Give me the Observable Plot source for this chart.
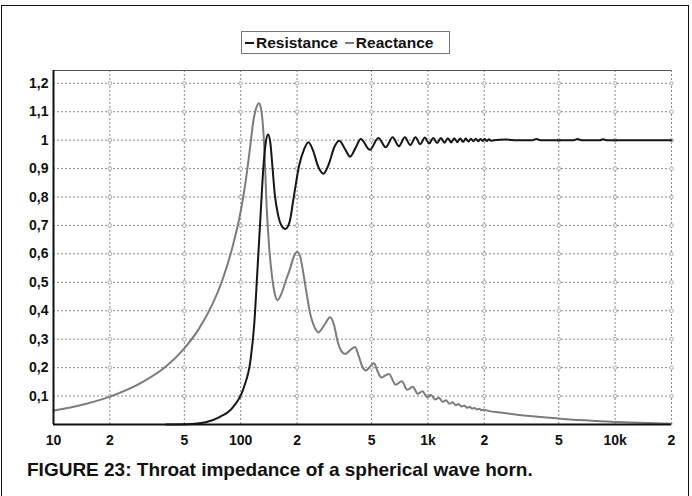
<!DOCTYPE html>
<html>
<head>
<meta charset="utf-8">
<script src="https://cdn.jsdelivr.net/npm/d3@7"></script>
<script src="https://cdn.jsdelivr.net/npm/@observablehq/plot@0.6"></script>
<style>
  html, body { margin: 0; padding: 0; background: #fff; }
  #fig { position: relative; width: 692px; height: 496px; overflow: hidden; background: #fff; }
  #border { position: absolute; left: 1px; top: 5px; width: 688px; height: 520px; border: 1.5px solid #111; box-sizing: border-box; }
  #legend { position: absolute; left: 241px; top: 31px; width: 209px; height: 23px; border: 1.5px solid #777; box-sizing: border-box;
            background: #fff; font: bold 15.5px "Liberation Sans", Arial, sans-serif; color: #111; white-space: nowrap;
            display: flex; align-items: center; padding-left: 3px; }
  .sw { display: inline-block; width: 9px; height: 2px; margin-right: 2px; }
  #chart { position: absolute; left: 0; top: 40px; }
  #caption { position: absolute; left: 27px; top: 459px; font: bold 19px "Liberation Sans", Arial, sans-serif; color: #111; white-space: nowrap; }
</style>
</head>
<body>
<div id="fig">
  <div id="border"></div>
  <div id="chart"></div>
  <div id="legend"></div>
  <div id="caption"></div>
</div>
<script>
// ---- data ----
const seriesNames = ["Resistance", "Reactance"];
const captionText = "FIGURE 23: Throat impedance of a spherical wave horn.";

const xTicks = [10, 20, 50, 100, 200, 500, 1000, 2000, 5000, 10000, 20000];
const xTickLabels = ["10", "2", "5", "100", "2", "5", "1k", "2", "5", "10k", "2"];
const yTicks = [0.1, 0.2, 0.3, 0.4, 0.5, 0.6, 0.7, 0.8, 0.9, 1.0, 1.1, 1.2];
const yTickLabels = ["0,1", "0,2", "0,3", "0,4", "0,5", "0,6", "0,7", "0,8", "0,9", "1", "1,1", "1,2"];

// Resistance (black)
const resF = [40, 55, 65, 77, 91, 104, 113, 118, 123, 128, 132, 136, 140, 144, 148, 152, 158, 165, 173, 182, 192, 205, 218, 230, 243, 260, 277, 295, 316, 336, 360, 384, 410, 438, 490, 543, 595, 648, 700, 753, 805, 858, 910, 963, 1015, 1068, 1120, 1173, 1225, 1278, 1330, 1383, 1435, 1488, 1540, 1593, 1645, 1698, 1750, 1803, 1855, 1908, 1960, 2013, 2065, 2118, 2170, 2250, 2600, 3000, 3600, 3800, 4000, 4400, 6000, 6300, 6600, 8300, 8600, 9000, 12000, 20000];
const resV = [0.0, 0.002, 0.008, 0.026, 0.061, 0.131, 0.23, 0.35, 0.55, 0.75, 0.9, 0.99, 1.02, 0.99, 0.9, 0.81, 0.74, 0.7, 0.688, 0.71, 0.8, 0.91, 0.968, 0.993, 0.965, 0.905, 0.882, 0.915, 0.975, 0.998, 0.97, 0.942, 0.972, 1.004, 0.966, 1.008, 0.975, 1.01, 0.979, 1.01, 0.983, 1.01, 0.986, 1.009, 0.988, 1.008, 0.99, 1.008, 0.991, 1.007, 0.992, 1.007, 0.993, 1.006, 0.994, 1.006, 0.995, 1.005, 0.996, 1.005, 0.996, 1.004, 0.997, 1.004, 0.997, 1.003, 0.998, 1.0, 1.002, 1.0, 1.0, 1.004, 1.0, 1.0, 1.0, 1.004, 1.0, 1.0, 1.003, 1.0, 1.0, 1.0];

// Reactance (grey)
const reaF = [10, 15, 20, 30, 40, 50, 60, 70, 80, 90, 100, 106, 112, 117, 122, 125, 128, 133, 138, 142, 147, 152, 157, 165, 175, 184, 192, 200, 208, 215, 225, 235, 245, 260, 280, 300, 315, 330, 345, 361, 385, 408, 425, 445, 467, 490, 515, 540, 565, 590, 620, 672, 725, 777, 830, 882, 935, 987, 1040, 1092, 1145, 1197, 1250, 1302, 1355, 1407, 1460, 1512, 1565, 1617, 1670, 1722, 1775, 1827, 1880, 1932, 1985, 2100, 2500, 3000, 4000, 5000, 6000, 7000, 8000, 10000, 12000, 15000, 20000];
const reaV = [0.049, 0.073, 0.098, 0.15, 0.205, 0.268, 0.338, 0.418, 0.51, 0.62, 0.75, 0.85, 0.97, 1.07, 1.12, 1.13, 1.115, 1.0, 0.75, 0.62, 0.52, 0.46, 0.437, 0.46, 0.51, 0.55, 0.59, 0.607, 0.59, 0.54, 0.46, 0.39, 0.35, 0.324, 0.35, 0.377, 0.35, 0.29, 0.258, 0.248, 0.262, 0.273, 0.245, 0.205, 0.19, 0.203, 0.215, 0.185, 0.165, 0.172, 0.178, 0.14, 0.152, 0.122, 0.133, 0.108, 0.117, 0.097, 0.104, 0.088, 0.094, 0.08, 0.085, 0.073, 0.078, 0.068, 0.072, 0.063, 0.067, 0.059, 0.062, 0.056, 0.058, 0.053, 0.055, 0.05, 0.052, 0.048, 0.041, 0.034, 0.026, 0.021, 0.017, 0.015, 0.012, 0.009, 0.007, 0.005, 0.003];

// ---- build tables ----
const resistance = resF.map((f, i) => ({f, v: resV[i]}));
const reactance = reaF.map((f, i) => ({f, v: reaV[i]}));
const xLab = new Map(xTicks.map((t, i) => [t, xTickLabels[i]]));
const yLab = new Map(yTicks.map((t, i) => [t, yTickLabels[i]]));
const crossings = xTicks.slice(1).flatMap(x => yTicks.map(y => ({x, y})));

const colors = {Resistance: "#161616", Reactance: "#7c7c7c"};
const yTop = 1.245;
const font = "'Liberation Sans', Arial, sans-serif";
const gridStyle = {stroke: "#8a8a8a", strokeOpacity: 1, strokeDasharray: "2,2", strokeWidth: 1};

const chart = Plot.plot({
  width: 692,
  height: 414,
  marginLeft: 53,
  marginRight: 21,
  marginTop: 30,
  marginBottom: 30,
  style: {fontFamily: font, background: "transparent", overflow: "visible"},
  x: {type: "log", domain: [10, 20000], axis: null},
  y: {domain: [0, yTop], axis: null},
  marks: [
    Plot.gridX(xTicks.slice(1), gridStyle),
    Plot.gridY(yTicks, gridStyle),
    Plot.dot(crossings, {x: "x", y: "y", r: 1.8, stroke: "#9a9a9a", fill: "#fff", strokeWidth: 0.8}),
    Plot.ruleY([yTop], {stroke: "#555", strokeWidth: 1.2}),
    Plot.text(xTicks, {x: d => d, y: 0, text: d => xLab.get(d), dy: 11, lineAnchor: "top", fontSize: 14, fontWeight: "bold", fill: "#111"}),
    Plot.text(yTicks, {x: 10, y: d => d, text: d => yLab.get(d), dx: -5, textAnchor: "end", fontSize: 14, fontWeight: "bold", fill: "#111"}),
    Plot.line(reactance, {x: "f", y: "v", stroke: colors.Reactance, strokeWidth: 2, curve: "monotone-x"}),
    Plot.line(resistance, {x: "f", y: "v", stroke: colors.Resistance, strokeWidth: 2, curve: "monotone-x"}),
    Plot.ruleX([10], {stroke: "#111", strokeWidth: 2}),
    Plot.ruleY([0], {stroke: "#111", strokeWidth: 2})
  ]
});
document.getElementById("chart").appendChild(chart);

// legend
const legend = document.getElementById("legend");
seriesNames.forEach((name, i) => {
  const sw = document.createElement("span");
  sw.className = "sw";
  sw.style.background = colors[name];
  if (i > 0) sw.style.marginLeft = "7px";
  legend.appendChild(sw);
  legend.appendChild(document.createTextNode(name));
});
document.getElementById("caption").textContent = captionText;
</script>
</body>
</html>
